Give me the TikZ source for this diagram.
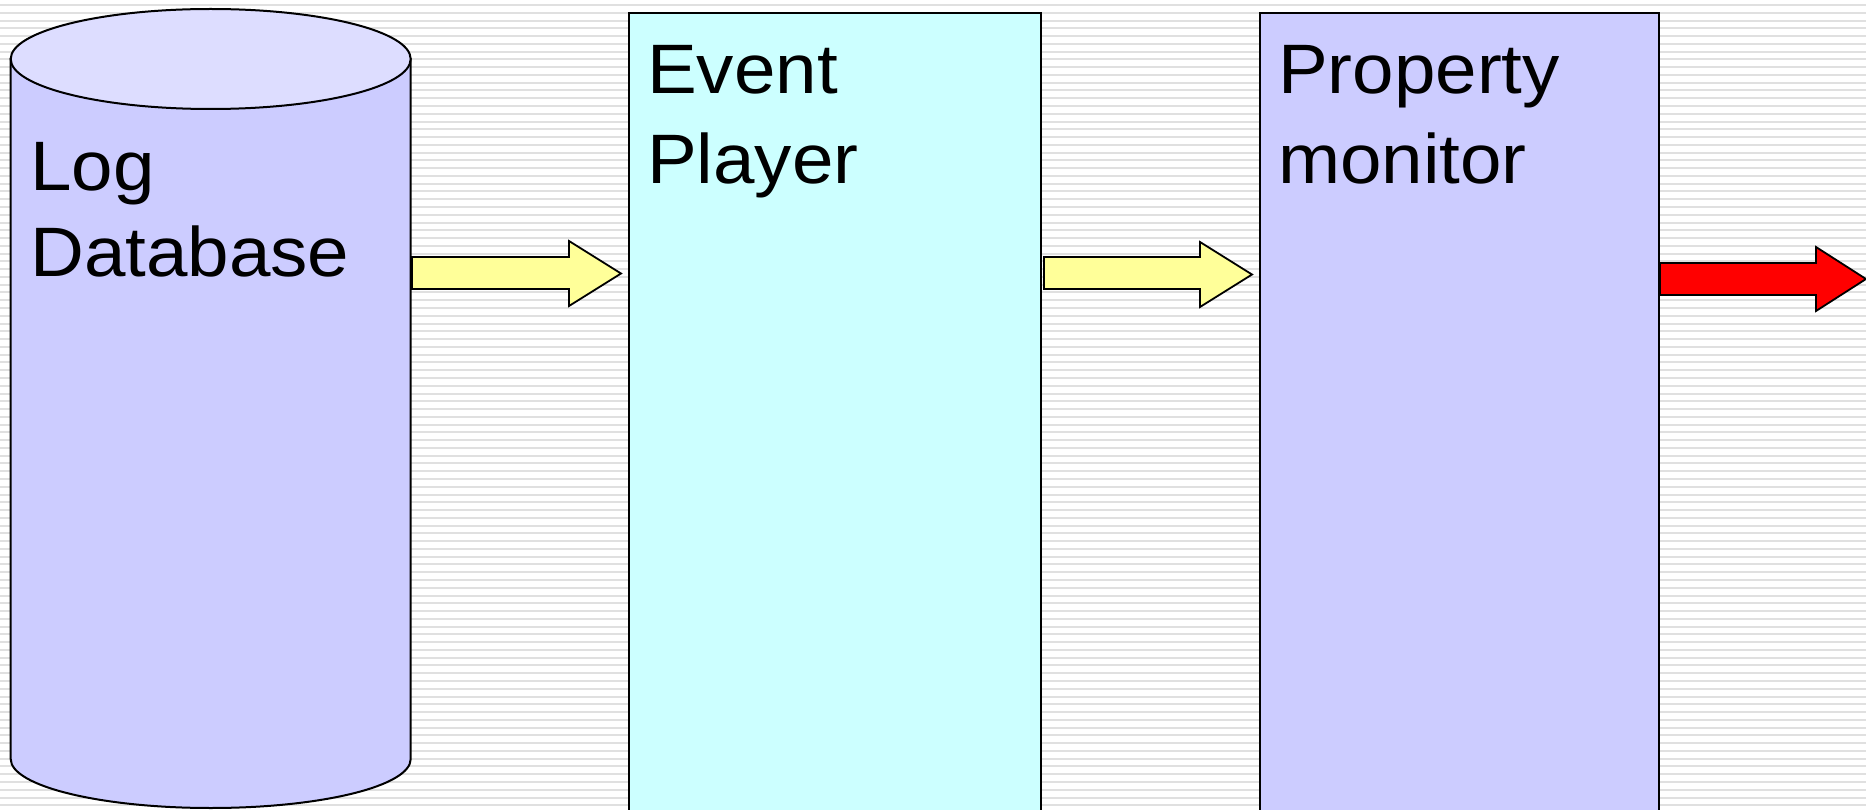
\documentclass[tikz,border=0pt]{standalone}
\usepackage{fontspec}
\setmainfont{Liberation Sans}
\newfontfamily\lblfont[FakeStretch=1.065]{Liberation Sans}
\definecolor{bgline}{RGB}{224,224,224}
\definecolor{cylbody}{RGB}{204,204,255}
\definecolor{cyltop}{RGB}{221,221,255}
\definecolor{epfill}{RGB}{204,255,255}
\definecolor{pmfill}{RGB}{204,204,255}
\definecolor{yarrow}{RGB}{255,255,153}
\definecolor{rarrow}{RGB}{255,0,0}
\tikzset{
  stripe/.style={draw=bgline, line width=2pt},
  outline/.style={draw=black, line width=2pt, line join=miter},
  boxnode/.style={outline, rectangle, anchor=north west, inner sep=0pt},
  lbl/.style={anchor=base west, inner sep=0pt, font=\lblfont\fontsize{70}{84}\selectfont},
  blockarrow/.style={outline, line width=1.8pt}
}
\begin{document}
\begin{tikzpicture}[x=1pt,y=-1pt]
\useasboundingbox (0,0) rectangle (1866,810);
\fill[white] (0,0) rectangle (1866,810);
\foreach \k in {0,...,104} {
  \draw[stripe] (0,{5+\k*7.77}) -- (1866,{5+\k*7.77});
}
% Log database cylinder
\filldraw[outline, fill=cylbody] (10.7,59) -- (10.7,759)
  arc[start angle=180, end angle=360, x radius=200pt, y radius=49pt]
  -- (410.7,59) -- cycle;
\filldraw[outline, fill=cyltop] (210.7,59) ellipse [x radius=200pt, y radius=50pt];
\node[lbl] (log1) at (30,191) {Log};
\node[lbl] (log2) at (30,277) {Database};
% Event player
\node[boxnode, fill=epfill, minimum width=412pt, minimum height=830pt] (ep) at (628,12) {};
\node[lbl] (ep1) at (647,94) {Event};
\node[lbl] (ep2) at (647,184) {Player};
% Property monitor
\node[boxnode, fill=pmfill, minimum width=399pt, minimum height=830pt] (pm) at (1259,12) {};
\node[lbl] (pm1) at (1278,94) {Property};
\node[lbl] (pm2) at (1278,184) {monitor};
% block arrows
\filldraw[blockarrow, fill=yarrow] (412,257) -- (569,257) -- (569,241) -- (621,273.5)
  -- (569,306) -- (569,289) -- (412,289) -- cycle;
\filldraw[blockarrow, fill=yarrow] (1044,257) -- (1200,257) -- (1200,242) -- (1252,274.5)
  -- (1200,307) -- (1200,289) -- (1044,289) -- cycle;
\filldraw[blockarrow, fill=rarrow] (1660,263) -- (1816,263) -- (1816,247) -- (1866,279)
  -- (1816,311) -- (1816,295) -- (1660,295) -- cycle;
\end{tikzpicture}
\end{document}
